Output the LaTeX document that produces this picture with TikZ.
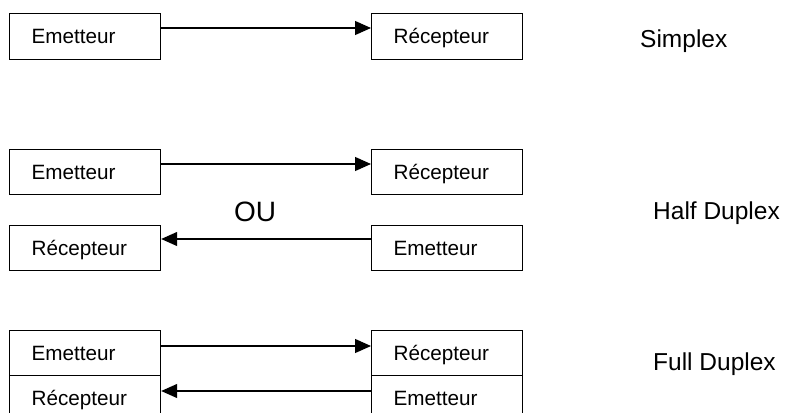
\documentclass[tikz,border=0pt]{standalone}
\usepackage{fontspec}
\setmainfont{Liberation Sans}
\usetikzlibrary{arrows.meta}
\begin{document}
\begin{tikzpicture}[x=1pt,y=-1pt,
  box/.style={draw, line width=1.2pt, anchor=north west, minimum height=#1,
    inner xsep=22pt, inner ysep=0pt, text width=107pt, align=left,
    text height=18pt, text depth=4pt, font=\fontsize{20.7}{24}\selectfont},
  box/.default=46pt,
  conn/.style={line width=1.2pt, -{Triangle[length=16pt,width=14pt]}},
  lbl/.style={anchor=base west, inner sep=0pt, font=\fontsize{24.5}{28}\selectfont}]
\useasboundingbox (0,0) rectangle (794,412);
\clip (0,0) rectangle (794,412);
% Simplex
\node[box] (s1) at (9,13) {Emetteur};
\node[box] (s2) at (371,13) {Récepteur};
\draw[conn] ([yshift=-15pt]s1.north east) -- ([yshift=-15pt]s2.north west);
\node[lbl] (ls) at (640,48) {Simplex};
% Half duplex
\node[box=45pt] (h1) at (9,149) {Emetteur};
\node[box=45pt] (h2) at (371,149) {Récepteur};
\node[box=45pt] (h3) at (9,225) {Récepteur};
\node[box=45pt] (h4) at (371,225) {Emetteur};
\draw[conn] ([yshift=-15pt]h1.north east) -- ([yshift=-15pt]h2.north west);
\draw[conn] ([yshift=-14pt]h4.north west) -- ([yshift=-14pt]h3.north east);
\node[anchor=base, inner sep=0pt, font=\fontsize{28}{32}\selectfont] (ou) at (255,221) {OU};
\node[lbl] (lh) at (653,219) {Half Duplex};
% Full duplex
\node[box=45pt] (f1) at (9,330) {Emetteur};
\node[box=45pt] (f2) at (371,330) {Récepteur};
\node[box=45pt] (f3) at (9,375) {Récepteur};
\node[box=45pt] (f4) at (371,375) {Emetteur};
\draw[conn] ([yshift=-16pt]f1.north east) -- ([yshift=-16pt]f2.north west);
\draw[conn] ([yshift=-16pt]f4.north west) -- ([yshift=-16pt]f3.north east);
\node[lbl] (lf) at (653,370) {Full Duplex};
\end{tikzpicture}
\end{document}
